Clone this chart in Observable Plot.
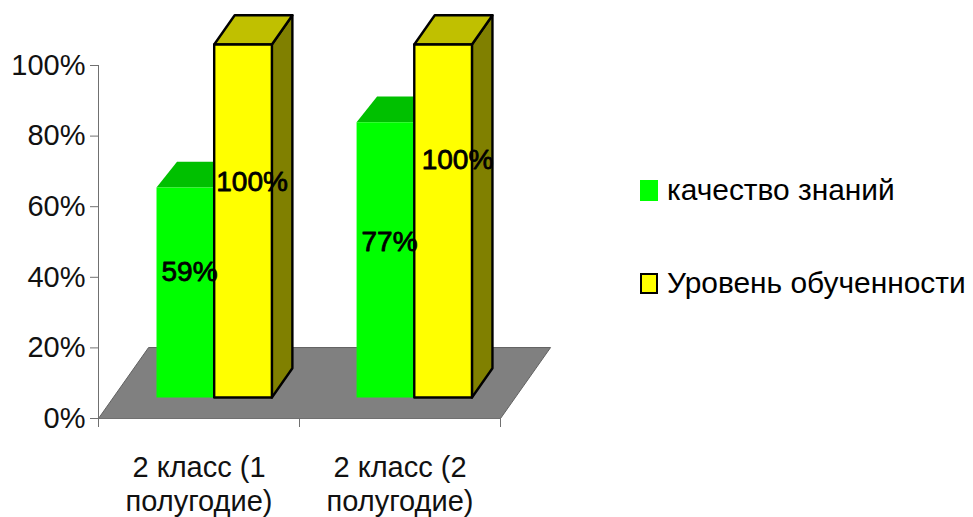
<!DOCTYPE html>
<html>
<head>
<meta charset="utf-8">
<script src="https://cdn.jsdelivr.net/npm/d3@7"></script>
<script src="https://cdn.jsdelivr.net/npm/@observablehq/plot@0.6"></script>
<style>
  html, body { margin: 0; padding: 0; background: #fff; }
  #chart { position: relative; width: 973px; height: 517px; overflow: hidden; font-family: "Liberation Sans", Arial, sans-serif; }
  .legend { position: absolute; left: 640px; display: flex; align-items: center; font-size: 29.9px; color: #000; white-space: nowrap; }
  .swatch { width: 18px; height: 21px; box-sizing: border-box; margin-right: 9px; }
</style>
</head>
<body>
<div id="chart"></div>
<script>
const categories = ["2 класс (1\nполугодие)", "2 класс (2\nполугодие)"];
const seriesNames = ["качество знаний", "Уровень обученности"];
const quality = [59.5, 78];
const level = [100, 100];
const qualityLabels = ["59%", "77%"];
const levelLabels = ["100%", "100%"];
const yTicks = [0, 20, 40, 60, 80, 100];
const xTicks = [0, 1, 2];

// 3D layout, in scale units
const groupStart = [0.2886, 1.284];
const barW = 0.287;
const base = 5.95;
const depthX = 0.102, depthYBack = 8.3, depthYGreen = 7.3;
const floorX = 0.249, floorY = 20.1;

const polygon = (pts, o) => Plot.line([...pts, pts[0]], {x: "x", y: "y", strokeLinejoin: "round", ...o});

function bar(x1, value, dy, front, top, side, stroke) {
  const x2 = x1 + barW, y1 = base, y2 = base + value;
  const dx = depthX;
  const s = stroke ? {stroke: "#000", strokeWidth: 2.4} : {stroke: "none"};
  return [
    polygon([{x: x2, y: y1}, {x: x2 + dx, y: y1 + dy}, {x: x2 + dx, y: y2 + dy}, {x: x2, y: y2}], {fill: side, ...s}),
    polygon([{x: x1, y: y2}, {x: x2, y: y2}, {x: x2 + dx, y: y2 + dy}, {x: x1 + dx, y: y2 + dy}], {fill: top, ...s}),
    polygon([{x: x1, y: y1}, {x: x2, y: y1}, {x: x2, y: y2}, {x: x1, y: y2}], {fill: front, ...s})
  ];
}

const labelFont = {fill: "#000", stroke: "#000", strokeWidth: 0.8, fontSize: 28, textAnchor: "middle", lineAnchor: "middle"};
const axisFont = {fill: "#111", fontSize: 29};

const plot = Plot.plot({
  width: 973,
  height: 517,
  marginLeft: 98,
  marginRight: 473,
  marginTop: 65,
  marginBottom: 99,
  style: {fontFamily: '"Liberation Sans", Arial, sans-serif', background: "#fff", overflow: "visible"},
  x: {type: "linear", domain: [0, 2], axis: null},
  y: {type: "linear", domain: [0, 100], axis: null},
  marks: [
    polygon([{x: 0, y: 0}, {x: 2, y: 0}, {x: 2 + floorX, y: floorY}, {x: floorX, y: floorY}], {fill: "#808080", stroke: "#606060", strokeWidth: 1}),
    Plot.ruleX([0], {y1: 0, y2: 100, stroke: "#707070"}),
    Plot.ruleY([0], {x1: 0, x2: 2, stroke: "#707070"}),
    Plot.axisY(yTicks, {anchor: "left", ticks: yTicks, tickFormat: d => d + "%", tickSize: 8, tickPadding: 5, stroke: "#707070", ...axisFont, label: null}),
    Plot.axisX(xTicks, {anchor: "bottom", ticks: xTicks, tickFormat: () => "", tickSize: 9, stroke: "#707070", label: null}),
    ...groupStart.flatMap((g, i) => bar(g, quality[i], depthYGreen, "#00ff00", "#00c000", "#008000", false)),
    ...groupStart.flatMap((g, i) => bar(g + barW, level[i], depthYBack, "#ffff00", "#c0c000", "#808000", true)),
    Plot.text(qualityLabels, {x: [0.453, 1.448], y: [41.4, 49.9], text: d => d, ...labelFont}),
    Plot.text(levelLabels, {x: [0.764, 1.786], y: [66.9, 73.1], text: d => d, ...labelFont}),
    Plot.text(categories, {x: [0.5, 1.5], y: [0, 0], text: d => d, dy: 34, lineAnchor: "top", lineHeight: 1.17, textAnchor: "middle", ...axisFont})
  ]
});
const chart = document.getElementById("chart");
chart.appendChild(plot);

[["#00ff00", "none", 173], ["#ffff00", "#000", 266]].forEach(([fill, border, top], i) => {
  const row = document.createElement("div");
  row.className = "legend";
  row.style.top = top + "px";
  const sw = document.createElement("span");
  sw.className = "swatch";
  sw.style.background = fill;
  if (border !== "none") sw.style.border = "2px solid " + border;
  const label = document.createElement("span");
  label.textContent = seriesNames[i];
  row.append(sw, label);
  chart.appendChild(row);
});
</script>
</body>
</html>
